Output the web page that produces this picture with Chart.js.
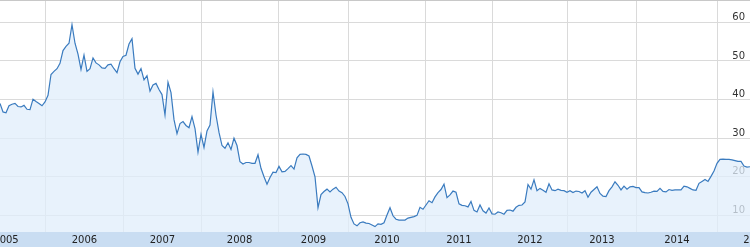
<!DOCTYPE html>
<html>
<head>
<meta charset="utf-8">
<script src="https://cdn.jsdelivr.net/npm/chart.js@4/dist/chart.umd.min.js"></script>
<style>
  html, body { margin: 0; padding: 0; background: #fff; }
  #wrap { width: 750px; height: 247px; }
</style>
</head>
<body>
<div id="wrap"><canvas id="myChart" width="750" height="247"></canvas></div>
<script>
// closing price, one sample every ~2 weeks (sample index on the x axis)
var prices = [
    39.0, 36.8, 36.6, 38.4, 38.8, 39.0, 38.2, 38.1, 38.5, 37.5,
    37.4, 40.1, 39.5, 39.0, 38.4, 39.4, 41.1, 46.5, 47.3, 48.0,
    49.4, 52.7, 53.8, 54.6, 59.4, 54.6, 51.8, 47.8, 51.5, 47.3,
    48.0, 50.8, 49.5, 49.0, 48.2, 48.1, 49.0, 49.2, 48.0, 47.0,
    49.8, 51.2, 51.5, 54.4, 55.8, 48.1, 46.6, 48.0, 45.1, 46.2,
    42.2, 43.8, 44.2, 42.6, 41.3, 36.0, 44.5, 41.8, 34.8, 31.2,
    33.8, 34.3, 33.3, 32.7, 35.6, 32.5, 26.4, 31.0, 27.6, 31.9,
    33.4, 42.0, 36.0, 31.5, 28.1, 27.4, 28.8, 27.1, 30.0, 28.1,
    23.9, 23.3, 23.7, 23.7,
    23.5, 23.5, 25.7, 22.2, 20.0, 18.1, 19.8, 21.2, 21.1, 22.7,
    21.3, 21.4, 22.1, 22.9, 22.0, 24.9, 25.8, 25.9, 25.8, 25.4,
    22.8, 20.0, 12.0, 15.4, 16.2, 16.8, 16.1, 16.8, 17.3, 16.3,
    15.9, 14.9, 13.0, 9.5, 7.8, 7.3, 8.1, 8.3, 8.0, 7.9,
    7.5, 7.1, 7.8, 7.7, 8.1, 10.1, 12.0, 9.9, 9.0, 8.8,
    8.8, 8.8, 9.3, 9.5, 9.7, 10.0, 12.1, 11.6, 12.7, 13.8,
    13.3, 14.8, 15.9, 16.7, 18.1, 14.6, 15.3, 16.3, 16.0, 13.0,
    12.6, 12.5, 12.2, 13.6, 11.3, 10.9, 12.7, 11.2, 10.6, 11.9,
    10.4, 10.3, 10.9,
    10.7, 10.3, 11.3, 11.4, 11.1, 12.1, 12.6, 12.7, 13.5, 18.0,
    16.8, 19.2, 16.4, 17.0, 16.5, 16.0, 18.2, 16.6, 16.4, 16.8,
    16.5, 16.4, 16.0, 16.4, 15.9, 16.3, 16.2, 15.8, 16.4, 14.7,
    16.0, 16.7, 17.4, 15.7, 15.0, 14.9, 16.4, 17.4, 18.7, 17.8,
    16.6, 17.6, 16.8, 17.4, 17.5, 17.2, 17.2, 16.1, 15.9, 15.8,
    16.0, 16.3, 16.2, 17.0, 16.2, 16.1, 16.7, 16.5, 16.6, 16.6,
    16.6, 17.6, 17.4, 17.0, 16.6, 16.5, 18.3, 18.8, 19.3, 18.8,
    20.1, 21.5, 23.5, 24.5, 24.6, 24.5, 24.5, 24.4, 24.2, 24.0,
    24.0, 22.8, 22.5, 22.6
];

var years = ['2005', '2006', '2007', '2008', '2009', '2010', '2011', '2012', '2013', '2014', '2015'];
// sample index where each year begins (one more than years)
var yearStarts = [-11, 15, 41.3, 67, 92.7, 116.3, 141.7, 164.3, 189, 212.3, 239, 265];
var priceTicks = [10, 20, 30, 40, 50, 60];

var points = prices.map(function (v, i) { return { x: i, y: v }; });
var yearMids = years.map(function (y, i) { return (yearStarts[i] + yearStarts[i + 1]) / 2; });

function noPadding(scale) {
    scale.paddingLeft = 0;
    scale.paddingRight = 0;
    scale.paddingTop = 0;
    scale.paddingBottom = 0;
}

var frame = {
    id: 'frame',
    beforeDraw: function (chart) {
        var c = chart.ctx, a = chart.chartArea;
        c.save();
        c.fillStyle = '#ffffff';
        c.fillRect(0, 0, chart.width, chart.height);
        c.fillStyle = '#c9ddf2';
        c.fillRect(0, a.bottom, chart.width, chart.height - a.bottom);
        c.restore();
    },
    afterDraw: function (chart) {
        var c = chart.ctx;
        c.save();
        c.strokeStyle = '#c8c8c8';
        c.lineWidth = 1;
        c.beginPath();
        c.moveTo(0, 0.5);
        c.lineTo(chart.width, 0.5);
        c.stroke();
        c.restore();
    }
};

var ctx = document.getElementById('myChart').getContext('2d');
var myChart = new Chart(ctx, {
    type: 'line',
    data: {
        datasets: [{
            data: points,
            xAxisID: 'x',
            yAxisID: 'y',
            borderColor: '#3a7bbf',
            borderWidth: 1.2,
            backgroundColor: 'rgba(224, 238, 251, 0.75)',
            fill: 'start',
            pointRadius: 0,
            tension: 0
        }]
    },
    options: {
        responsive: false,
        animation: false,
        layout: { padding: 0 },
        plugins: {
            legend: { display: false },
            tooltip: { enabled: false }
        },
        scales: {
            x: {
                type: 'linear',
                position: 'bottom',
                min: 0,
                max: 250,
                border: { display: false },
                grid: { color: '#dadada', drawTicks: false },
                ticks: { display: false },
                afterBuildTicks: function (axis) {
                    axis.ticks = yearStarts.filter(function (v) { return v > 0 && v < 250; })
                        .map(function (v) { return { value: v }; });
                },
                afterFit: function (axis) { axis.height = 0; noPadding(axis); }
            },
            years: {
                type: 'linear',
                position: 'bottom',
                min: 0,
                max: 250,
                border: { display: false },
                grid: { display: false, drawTicks: false },
                ticks: {
                    autoSkip: false,
                    maxRotation: 0,
                    padding: 2,
                    color: '#222',
                    font: { family: 'DejaVu Sans', size: 10 },
                    callback: function (v, i) { return years[i]; }
                },
                afterBuildTicks: function (axis) {
                    axis.ticks = yearMids.map(function (v) { return { value: v }; });
                },
                afterFit: function (axis) { axis.height = 15; noPadding(axis); }
            },
            y: {
                position: 'right',
                min: 5.7,
                max: 65.8,
                border: { display: false },
                grid: { color: '#dadada', drawTicks: false },
                ticks: {
                    mirror: true,
                    padding: -5,
                    labelOffset: -5,
                    color: '#333',
                    font: { family: 'DejaVu Sans', size: 10 }
                },
                afterBuildTicks: function (axis) {
                    axis.ticks = priceTicks.map(function (v) { return { value: v }; });
                },
                afterFit: function (axis) { axis.width = 0; noPadding(axis); }
            }
        }
    },
    plugins: [frame]
});
</script>
</body>
</html>
